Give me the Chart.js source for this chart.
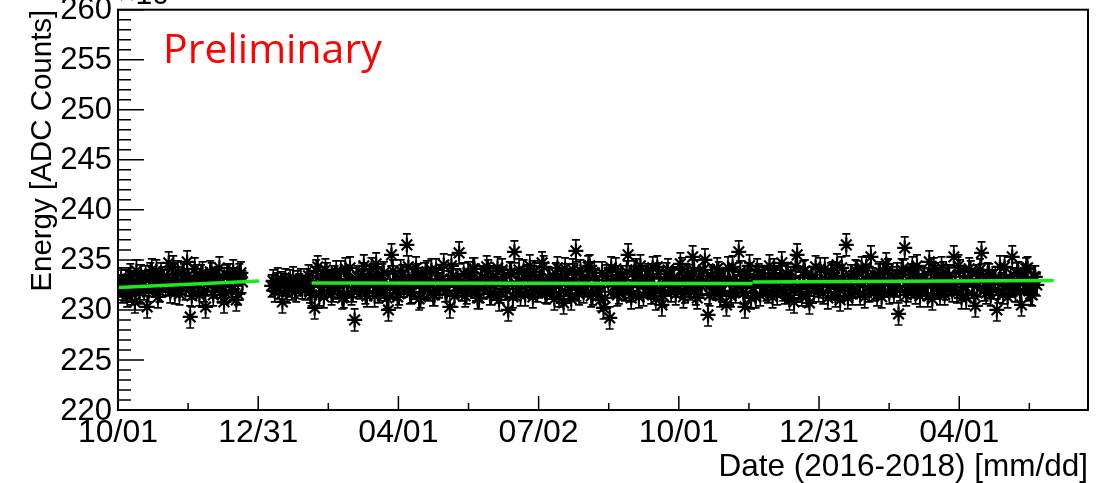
<!DOCTYPE html>
<html>
<head>
<meta charset="utf-8">
<script src="https://cdn.jsdelivr.net/npm/chart.js@4.4.0/dist/chart.umd.min.js"></script>
<style>
  html, body { margin: 0; padding: 0; background: #fff; }
</style>
</head>
<body>
<canvas id="graph" width="1102" height="483"></canvas>
<script>
// x is days since 2016-10-01, ticks every quarter (91.25 d)
const tickDays = [0, 91.25, 182.5, 273.75, 365, 456.25, 547.5];
const tickLabels = ["10/01", "12/31", "04/01", "07/02", "10/01", "12/31", "04/01"];
const xMax = 631.3;
const yTicks = [220, 225, 230, 235, 240, 245, 250, 255, 260];

// energy in units of 10^3 ADC counts, odd and even days kept apart
const seg1Start = 1, seg1Step = 2;
const seg1Energy = [
  232.4, 231.8, 232.9, 233.1, 231.6, 230.8, 232.7, 233.4, 232.1, 230.3,
  233.6, 232.8, 233.9, 231.9, 233.2, 232.5, 234.7, 233.0, 231.7, 233.8,
  232.6, 233.5, 234.8, 229.3, 232.2, 233.4, 231.5, 233.7, 230.3, 232.9,
  233.6, 232.3, 233.2, 231.8, 230.8, 233.4, 232.7, 233.9, 231.0, 233.5,
  232.8
];
const seg1bStart = 2, seg1bStep = 2;
const seg1bEnergy = [
  233.1, 232.0, 231.4, 233.5, 232.6, 233.9, 231.7, 232.8, 233.3, 231.9,
  234.0, 232.4, 231.3, 233.6, 232.9, 233.2, 231.8, 234.3, 232.5, 231.6,
  233.7, 232.1, 233.0, 231.4, 234.1, 232.7, 233.4, 231.9, 232.6, 233.8,
  231.5, 232.9, 234.2, 232.3, 231.7, 233.5, 232.0, 233.1, 231.6, 233.7
];
const seg2Start = 100, seg2Step = 1;
const seg2Energy = [
  232.4, 232.9, 231.9, 232.6, 233.1, 232.2, 232.7, 230.8, 232.5, 233.0,
  231.8, 232.4, 232.9, 232.1, 233.2, 232.3, 231.9, 232.8, 232.5, 233.0,
  232.2
];
const seg3Start = 122, seg3Step = 2;
const seg3Energy = [
  232.1, 233.4, 231.5, 230.2, 234.3, 232.8, 231.3, 233.6, 232.4, 231.9,
  233.8, 232.6, 231.2, 234.1, 232.9, 231.6, 229.0, 233.3, 232.2, 234.4,
  231.4, 233.0, 232.5, 234.6, 231.8, 233.5, 232.0, 230.0, 235.5, 232.7,
  231.3, 233.9, 232.4, 236.5, 231.7, 233.2, 234.2, 231.1, 232.8, 233.6,
  232.0, 234.0, 231.5, 233.1, 232.6, 234.5, 231.9, 230.3, 233.4, 232.3,
  235.7, 232.0, 231.4, 233.7, 232.5, 234.1, 231.2, 233.0, 232.2, 234.3,
  231.6, 233.3, 232.8, 231.0, 234.0, 232.4, 230.0, 233.6, 235.8, 232.1,
  231.5, 233.9, 232.6, 234.4, 231.3, 233.0, 232.3, 234.7, 231.8, 233.2,
  232.5, 231.1, 234.2, 232.9, 230.7, 233.5, 232.0, 234.0, 235.9, 231.6,
  233.1, 232.4, 234.3, 231.4, 233.7, 232.2, 231.0, 230.2, 233.4, 229.2,
  232.7, 234.1, 231.7, 233.3, 232.0, 235.5, 231.2, 233.8, 232.6, 234.4,
  231.5, 233.0, 232.3, 234.2, 231.1, 233.6, 230.5, 232.8, 234.0, 231.9,
  233.2, 232.4, 234.6, 231.3, 233.5, 232.1, 235.3, 231.6, 233.1, 232.7,
  235.0, 229.5, 233.4, 232.2, 234.1, 231.4, 233.0, 230.5, 232.9, 234.3,
  231.8, 235.8, 232.5, 230.3, 233.6, 231.2, 232.8, 234.0, 231.5, 233.3,
  232.0, 234.4, 231.3, 233.1, 232.6, 234.7, 231.7, 233.5, 232.3, 230.8,
  235.5, 232.1, 233.8, 231.4, 230.7, 233.2, 234.3, 231.9, 232.7, 234.1,
  231.2, 233.6, 232.4, 234.5, 231.0, 233.0, 236.5, 232.2, 231.6, 233.9,
  232.6, 234.2, 231.3, 233.4, 235.3, 232.0, 231.5, 233.7, 232.8, 234.6,
  231.7, 233.2, 232.4, 229.6, 234.0, 236.2, 231.9, 233.5, 232.3, 234.4,
  231.4, 233.1, 232.7, 234.8, 231.1, 233.6, 232.2, 234.2, 231.6, 233.3,
  232.5, 235.3, 231.8, 233.9, 232.3, 231.2, 234.1, 232.8, 230.4, 233.4,
  235.7, 232.0, 233.6, 231.5, 232.9, 230.0, 234.3, 231.7, 233.2, 232.4,
  235.3, 231.9, 233.7, 230.5, 232.8, 234.2, 231.6, 233.3, 232.5
];
const seg3bStart = 123, seg3bStep = 2;
const seg3bEnergy = [
  233.0, 231.8, 232.7, 233.9, 231.5, 232.3, 234.0, 232.9, 231.6, 233.3,
  232.2, 233.8, 231.3, 232.6, 234.2, 231.9, 233.1, 232.4, 233.6, 231.7,
  232.8, 234.1, 231.4, 233.2, 232.0, 233.7, 231.2, 232.5, 233.9, 232.1,
  231.6, 233.4, 232.7, 234.3, 231.8, 232.9, 233.5, 231.3, 232.2, 233.8,
  232.6, 231.5, 234.0, 232.3, 233.1, 231.9, 232.8, 234.4, 231.4, 233.0,
  232.4, 233.6, 231.7, 232.9, 234.1, 232.0, 231.2, 233.3, 232.7, 233.9,
  231.6, 232.5, 234.2, 231.8, 233.2, 232.1, 233.7, 231.3, 232.6, 234.0,
  232.9, 231.5, 233.4, 232.3, 233.8, 231.9, 232.4, 234.3, 231.7, 233.1,
  232.2, 233.6, 231.4, 232.8, 234.1, 232.5, 231.1, 233.5, 232.0, 233.9,
  231.8, 232.7, 234.4, 231.6, 233.0, 232.3, 233.7, 231.2, 232.9, 234.2,
  232.4, 231.5, 233.3, 232.1, 233.8, 231.9, 232.6, 234.0, 231.3, 233.2,
  232.8, 233.5, 231.7, 232.2, 234.3, 232.0, 231.4, 233.6, 232.7, 233.1,
  231.6, 232.9, 234.1, 231.8, 233.4, 232.3, 233.9, 231.2, 232.5, 234.0,
  232.6, 231.5, 233.2, 232.1, 233.7, 231.9, 232.8, 234.2, 231.4, 233.0,
  232.4, 233.8, 231.7, 232.9, 234.4, 232.2, 231.3, 233.5, 232.7, 233.1,
  231.8, 232.5, 234.0, 231.6, 233.3, 232.0, 233.6, 231.1, 232.8, 234.3,
  232.3, 231.5, 233.9, 232.6, 233.2, 231.9, 232.4, 234.1, 231.7, 233.0,
  232.9, 233.7, 231.4, 232.1, 234.2, 232.5, 231.2, 233.4, 232.8, 233.8,
  231.6, 232.7, 234.3, 231.9, 233.1, 232.2, 233.5, 231.3, 232.6, 234.0,
  232.4, 231.8, 233.6, 232.0, 233.9, 231.5, 232.9, 234.2, 231.7, 233.3,
  232.5, 233.1, 231.4, 232.8, 234.1, 232.3, 231.6, 233.7, 232.1, 233.4,
  231.9, 232.6, 234.4, 231.2, 233.0, 232.7, 233.8, 231.5, 232.4, 234.0,
  232.9, 231.7, 233.5, 232.2, 233.2, 231.8, 232.6, 234.3, 231.3, 233.1,
  232.5, 233.6, 231.9, 232.8, 234.1, 232.0, 231.5, 233.3
];
const errHalf = 1.1;

// linear fits per period
const fitDays = [[0, 92], [126, 413], [413, 609]];
const fitEnergy = [[232.25, 232.9], [232.7, 232.65], [232.8, 232.95]];

function toPoints(start, step, values) {
  return values.map((v, i) => ({ x: start + i * step, y: v }));
}
const points = [].concat(
  toPoints(seg1Start, seg1Step, seg1Energy),
  toPoints(seg1bStart, seg1bStep, seg1bEnergy),
  toPoints(seg2Start, seg2Step, seg2Energy),
  toPoints(seg3Start, seg3Step, seg3Energy),
  toPoints(seg3bStart, seg3bStep, seg3bEnergy)
);

const font = '"Liberation Sans", Arial, sans-serif';

const rootStyle = {
  id: "rootStyle",
  beforeDatasetsDraw(chart) {
    const ctx = chart.ctx, xs = chart.scales.x, ys = chart.scales.y, a = chart.chartArea;
    ctx.save();
    ctx.beginPath();
    ctx.rect(a.left, a.top, a.right - a.left, a.bottom - a.top);
    ctx.clip();
    ctx.strokeStyle = "#000";
    ctx.lineWidth = 1.6;
    ctx.beginPath();
    points.forEach(p => {
      const px = xs.getPixelForValue(p.x);
      const y1 = ys.getPixelForValue(p.y + errHalf);
      const y2 = ys.getPixelForValue(p.y - errHalf);
      ctx.moveTo(px, y1); ctx.lineTo(px, y2);
      ctx.moveTo(px - 4, y1); ctx.lineTo(px + 4, y1);
      ctx.moveTo(px - 4, y2); ctx.lineTo(px + 4, y2);
    });
    ctx.stroke();
    ctx.restore();
  },
  afterDraw(chart) {
    const ctx = chart.ctx, xs = chart.scales.x, ys = chart.scales.y, a = chart.chartArea;
    ctx.save();
    ctx.strokeStyle = "#000";
    ctx.lineWidth = 2;
    ctx.strokeRect(a.left, a.top, a.right - a.left, a.bottom - a.top);

    // y ticks inside the frame
    ctx.lineWidth = 1.5;
    ctx.beginPath();
    for (let v = yTicks[0]; v <= yTicks[yTicks.length - 1]; v++) {
      const py = ys.getPixelForValue(v);
      const len = yTicks.includes(v) ? 26 : 13;
      ctx.moveTo(a.left, py); ctx.lineTo(a.left + len, py);
    }
    // x ticks, one minor tick per quarter
    const half = (tickDays[1] - tickDays[0]) / 2;
    tickDays.forEach(d => {
      const px = xs.getPixelForValue(d);
      ctx.moveTo(px, a.bottom); ctx.lineTo(px, a.bottom - 14);
      const pm = xs.getPixelForValue(d + half);
      if (pm < a.right) { ctx.moveTo(pm, a.bottom); ctx.lineTo(pm, a.bottom - 7); }
    });
    ctx.stroke();

    ctx.fillStyle = "#000";
    ctx.font = "31px " + font;
    ctx.textAlign = "right";
    ctx.textBaseline = "middle";
    yTicks.forEach(v => ctx.fillText(String(v), a.left - 6, ys.getPixelForValue(v) + 1));

    ctx.font = "32px " + font;
    ctx.textAlign = "center";
    ctx.textBaseline = "alphabetic";
    tickDays.forEach((d, i) => ctx.fillText(tickLabels[i], xs.getPixelForValue(d), 442));

    ctx.font = "31.5px " + font;
    ctx.textAlign = "right";
    ctx.fillText("Date (2016-2018) [mm/dd]", a.right, 476);

    ctx.font = "30px " + font;
    ctx.textAlign = "left";
    ctx.fillText("\u00d710", a.left, 4);

    ctx.save();
    ctx.translate(51, a.top);
    ctx.rotate(-Math.PI / 2);
    ctx.textAlign = "right";
    ctx.font = "29.5px " + font;
    ctx.fillText("Energy [ADC Counts]", 0, 0);
    ctx.restore();

    ctx.fillStyle = "#ff0000";
    ctx.font = '41px "Open Sans", sans-serif';
    ctx.textAlign = "left";
    ctx.fillText("Preliminary", 163, 63);
    ctx.restore();
  }
};

const fitSets = fitDays.map((d, i) => ({
  data: [{ x: d[0], y: fitEnergy[i][0] }, { x: d[1], y: fitEnergy[i][1] }],
  showLine: true,
  borderColor: "#1ee81e",
  borderWidth: 3.5,
  pointRadius: 0
}));

new Chart(document.getElementById("graph"), {
  type: "scatter",
  data: {
    datasets: fitSets.concat([{
      data: points,
      pointStyle: "star",
      pointRadius: 7.5,
      borderColor: "#000",
      backgroundColor: "#000",
      pointBorderWidth: 2.2
    }])
  },
  options: {
    responsive: false,
    animation: false,
    devicePixelRatio: 1,
    layout: { padding: { left: 118, right: 14, top: 8, bottom: 73 } },
    plugins: { legend: { display: false }, tooltip: { enabled: false } },
    scales: {
      x: { type: "linear", min: 0, max: xMax, display: false },
      y: { type: "linear", min: 220, max: 260, display: false }
    }
  },
  plugins: [rootStyle]
});
</script>
</body>
</html>
